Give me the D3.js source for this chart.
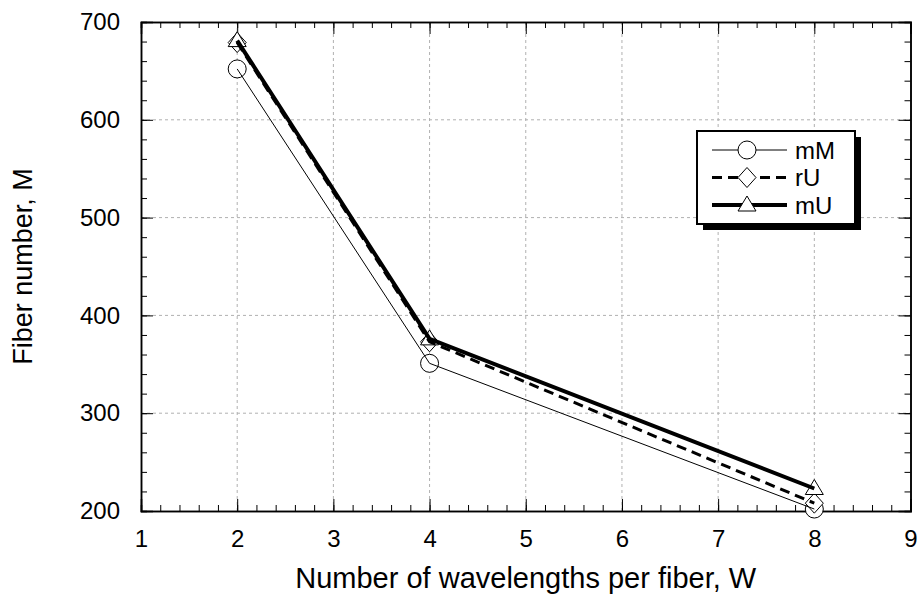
<!DOCTYPE html>
<html>
<head>
<meta charset="utf-8">
<script src="https://cdn.jsdelivr.net/npm/d3@7"></script>
<style>
  body { margin: 0; background: #fff; }
  svg text { font-family: "Liberation Sans", Arial, sans-serif; fill: #000; }
</style>
</head>
<body>
<svg id="chart" width="921" height="596"></svg>
<script>
// wavelengths per fiber
var wavelengths = [2, 4, 8];
// fiber number for each scheme
var mM = [652, 351, 202];
var rU = [679, 373, 208];
var mU = [681, 376, 223];

var xTicks = [1, 2, 3, 4, 5, 6, 7, 8, 9];
var yTicks = [200, 300, 400, 500, 600, 700];

var series = [
	{ name: "mM", values: mM, width: 1, dash: null, marker: "circle" },
	{ name: "rU", values: rU, width: 3, dash: "10,6", marker: "diamond" },
	{ name: "mU", values: mU, width: 4, dash: null, marker: "triangle" }
];

var plotLeft = 141, plotTop = 22, plotRight = 910.5, plotBottom = 511;

var svg = d3.select("#chart");
var x = d3.scaleLinear().domain([1, 9]).range([plotLeft, plotRight]);
var y = d3.scaleLinear().domain([200, 700]).range([plotBottom, plotTop]);

// grid
var grid = svg.append("g").attr("stroke", "#b0b0b0").attr("stroke-width", 1)
	.attr("stroke-dasharray", "3,3");
xTicks.slice(1, -1).forEach(function (t) {
	grid.append("line").attr("x1", x(t)).attr("x2", x(t))
		.attr("y1", plotTop).attr("y2", plotBottom);
});
yTicks.slice(1, -1).forEach(function (t) {
	grid.append("line").attr("x1", plotLeft).attr("x2", plotRight)
		.attr("y1", y(t)).attr("y2", y(t));
});

// axes with inward ticks on all four sides
function minor(scale, step) {
	var d = scale.domain();
	return d3.range(d[0], d[1] + step / 2, step);
}
var xMinor = minor(x, 0.2), yMinor = minor(y, 20);

var axes = svg.append("g");
axes.append("g").attr("transform", "translate(0," + plotBottom + ")")
	.call(d3.axisBottom(x).tickValues(xMinor).tickSize(-6).tickFormat(""));
axes.append("g").attr("transform", "translate(0," + plotBottom + ")")
	.call(d3.axisBottom(x).tickValues(xTicks).tickSize(-12).tickPadding(19)
		.tickFormat(d3.format("d")));
axes.append("g").attr("transform", "translate(0," + plotTop + ")")
	.call(d3.axisTop(x).tickValues(xMinor).tickSize(-6).tickFormat(""));
axes.append("g").attr("transform", "translate(0," + plotTop + ")")
	.call(d3.axisTop(x).tickValues(xTicks).tickSize(-12).tickFormat(""));
axes.append("g").attr("transform", "translate(" + plotLeft + ",0)")
	.call(d3.axisLeft(y).tickValues(yMinor).tickSize(-6).tickFormat(""));
axes.append("g").attr("transform", "translate(" + plotLeft + ",0)")
	.call(d3.axisLeft(y).tickValues(yTicks).tickSize(-12).tickPadding(21)
		.tickFormat(d3.format("d")));
axes.append("g").attr("transform", "translate(" + plotRight + ",0)")
	.call(d3.axisRight(y).tickValues(yMinor).tickSize(-6).tickFormat(""));
axes.append("g").attr("transform", "translate(" + plotRight + ",0)")
	.call(d3.axisRight(y).tickValues(yTicks).tickSize(-12).tickFormat(""));
axes.selectAll(".domain").attr("stroke", "#000").attr("stroke-width", 1.5);
axes.selectAll(".tick line").attr("stroke", "#000");
axes.selectAll(".tick text").attr("font-size", 24)
	.attr("font-family", "Liberation Sans, Arial, sans-serif");

// axis titles
svg.append("text").attr("x", (plotLeft + plotRight) / 2).attr("y", 588)
	.attr("text-anchor", "middle").attr("font-size", 29)
	.text("Number of wavelengths per fiber, W");
svg.append("text").attr("transform", "translate(32," + ((plotTop + plotBottom) / 2) + ") rotate(-90)")
	.attr("text-anchor", "middle").attr("font-size", 27)
	.text("Fiber number, M");

// markers
function drawMarker(g, kind, cx, cy) {
	if (kind === "circle") {
		g.append("circle").attr("cx", cx).attr("cy", cy).attr("r", 9);
	} else if (kind === "diamond") {
		g.append("path").attr("d", "M" + cx + "," + (cy - 10) + "L" + (cx + 9) + "," + cy +
			"L" + cx + "," + (cy + 10) + "L" + (cx - 9) + "," + cy + "Z");
	} else {
		g.append("path").attr("d", "M" + cx + "," + (cy - 9) + "L" + (cx + 9) + "," + (cy + 6) +
			"L" + (cx - 9) + "," + (cy + 6) + "Z");
	}
}

var line = d3.line().x(function (d) { return x(d[0]); }).y(function (d) { return y(d[1]); });

var plot = svg.append("g");
series.forEach(function (s) {
	var mg = plot.append("g").attr("fill", "#fff").attr("stroke", "#000").attr("stroke-width", 1);
	s.values.forEach(function (v, i) { drawMarker(mg, s.marker, x(wavelengths[i]), y(v)); });
});
series.forEach(function (s) {
	plot.append("path")
		.datum(wavelengths.map(function (w, i) { return [w, s.values[i]]; }))
		.attr("d", line).attr("fill", "none").attr("stroke", "#000")
		.attr("stroke-width", s.width).attr("stroke-dasharray", s.dash);
});

// legend
var lg = svg.append("g").attr("transform", "translate(697,131)");
lg.append("rect").attr("x", 6).attr("y", 6).attr("width", 158).attr("height", 93).attr("fill", "#000");
lg.append("rect").attr("x", 0).attr("y", 0).attr("width", 158).attr("height", 93)
	.attr("fill", "#fff").attr("stroke", "#000").attr("stroke-width", 2);
series.forEach(function (s, i) {
	var ry = 19 + i * 27.5;
	lg.append("line").attr("x1", 15).attr("x2", 90).attr("y1", ry).attr("y2", ry)
		.attr("stroke", "#000").attr("stroke-width", s.width).attr("stroke-dasharray", s.dash);
	var mg = lg.append("g").attr("fill", "#fff").attr("stroke", "#000").attr("stroke-width", 1);
	drawMarker(mg, s.marker, 50, ry);
	lg.append("text").attr("x", 98).attr("y", ry + 8.5).attr("font-size", 24).text(s.name);
});
</script>
</body>
</html>
